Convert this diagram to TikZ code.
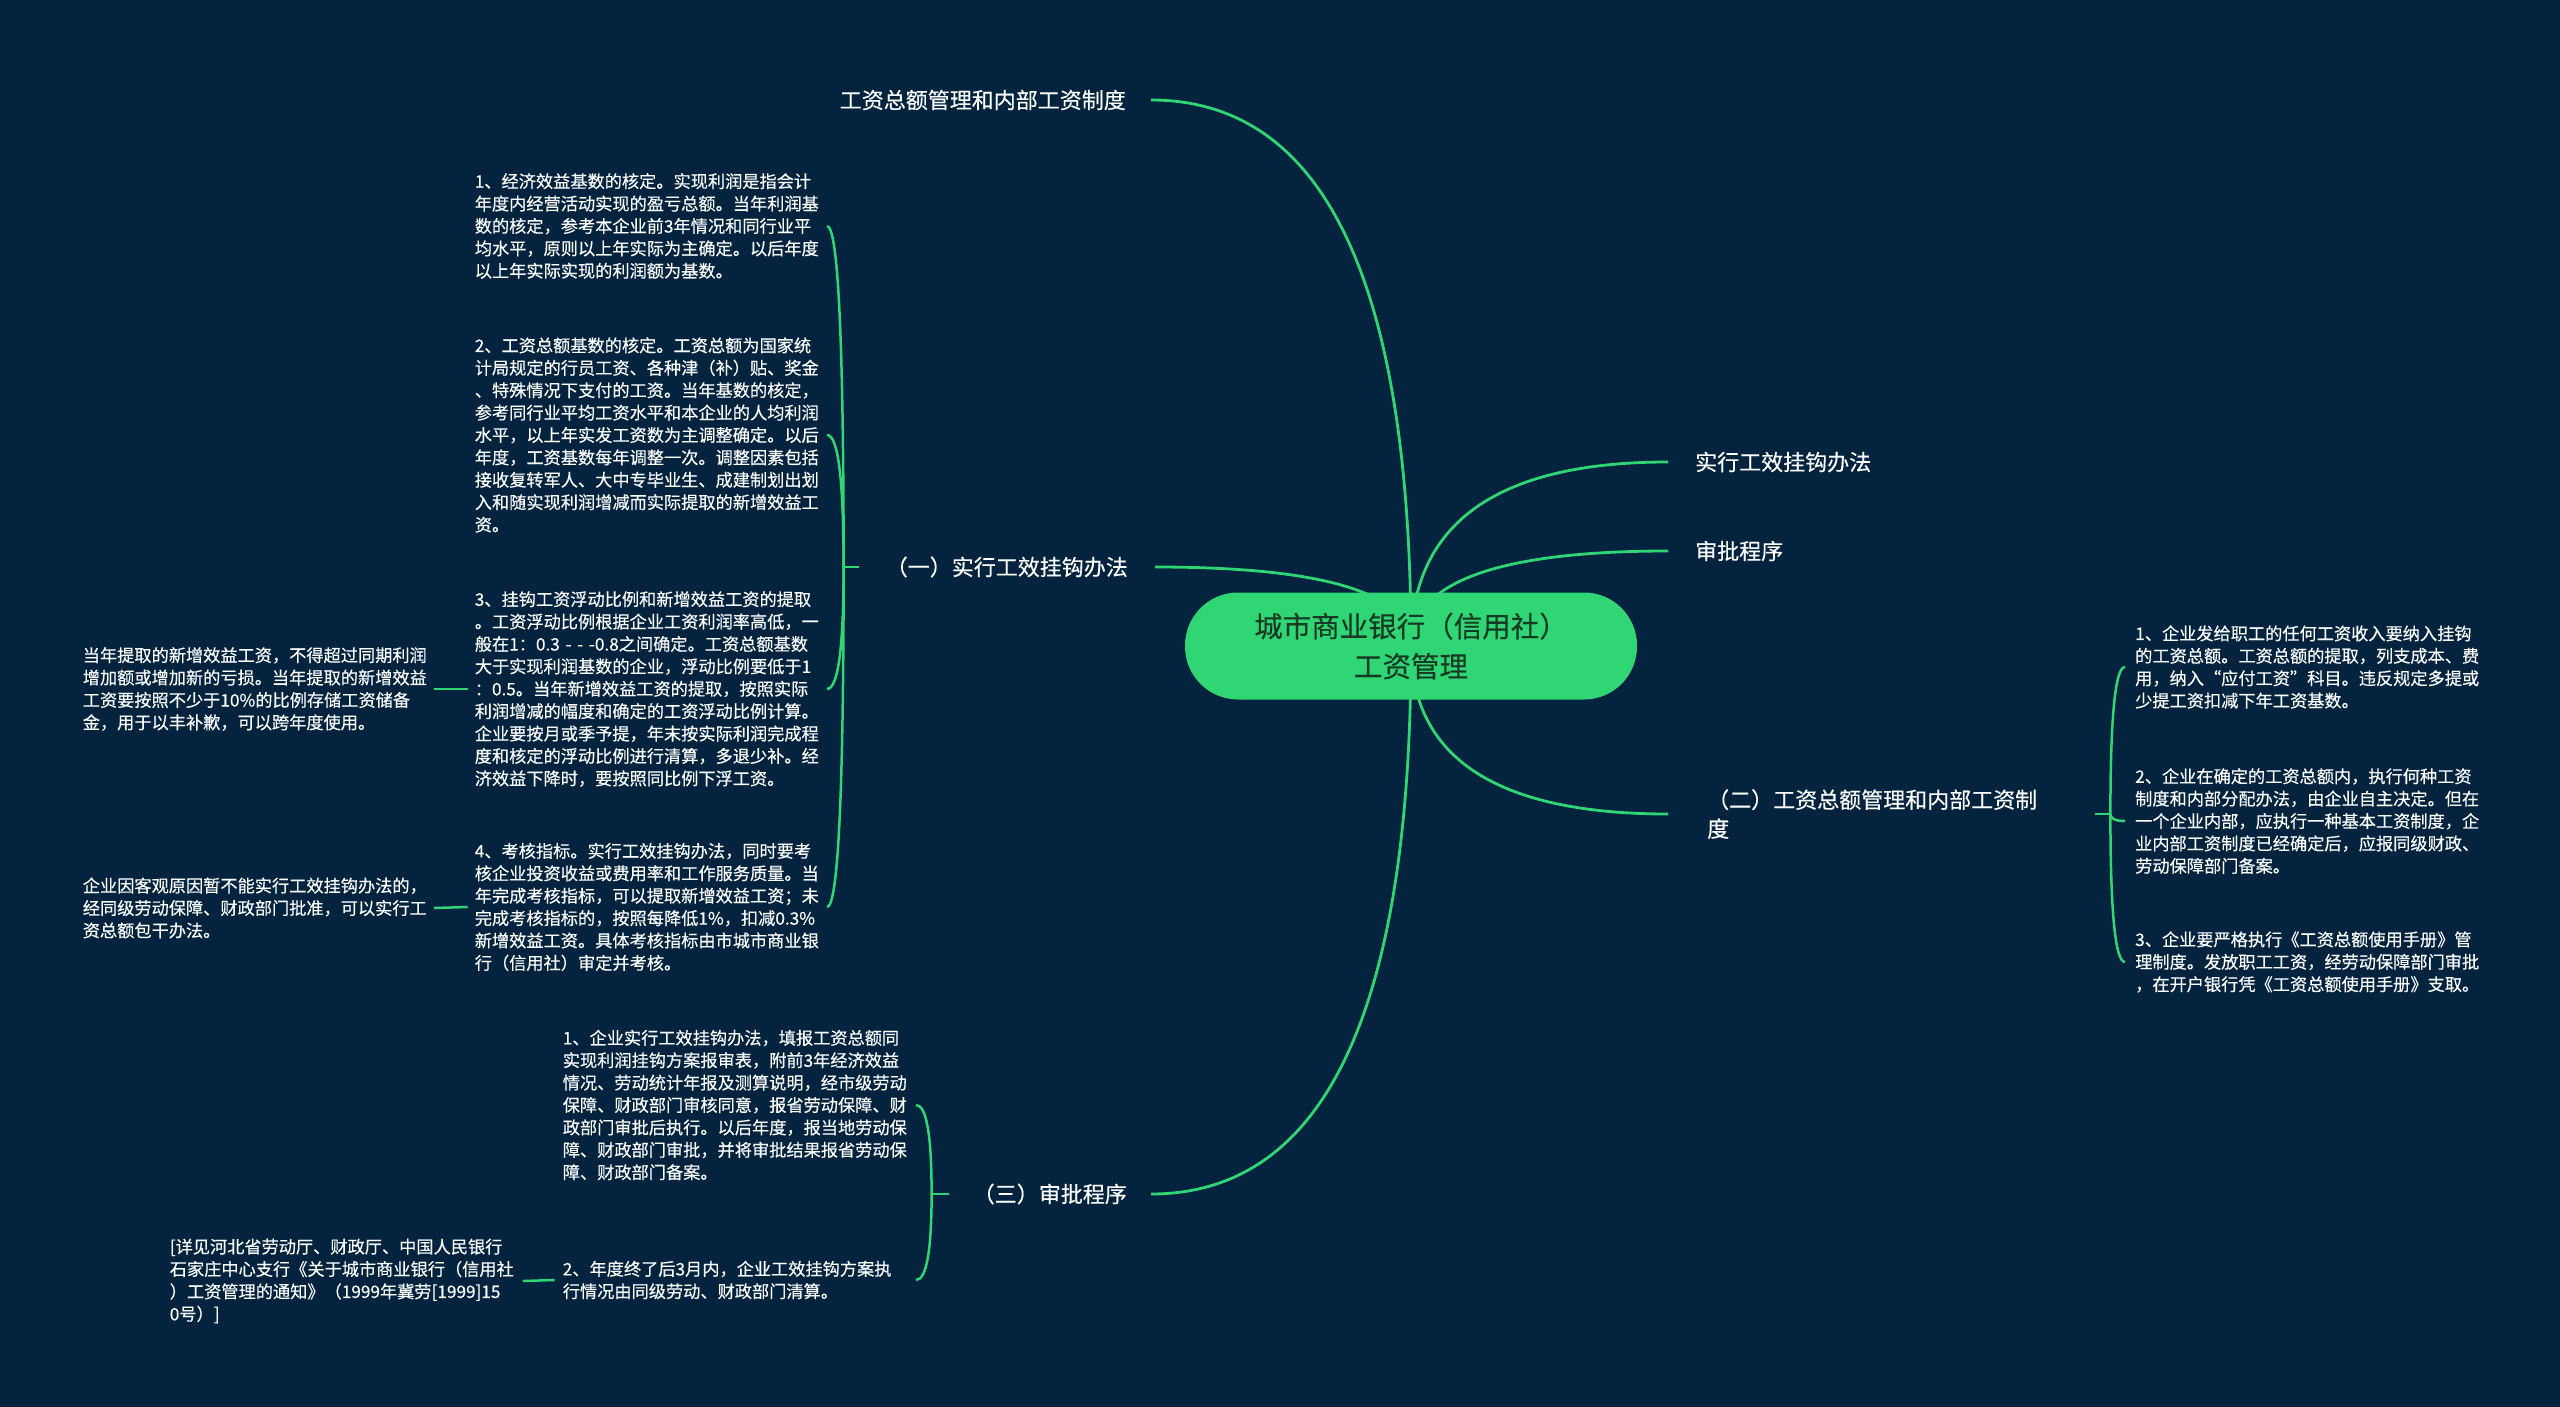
\documentclass[tikz,border=0pt]{standalone}
\usepackage{fontspec}
\setmainfont{Noto Sans CJK SC}[FakeBold=0.3]
\usetikzlibrary{calc}
\definecolor{bgc}{HTML}{03233F}
\definecolor{grn}{HTML}{2FD673}
\definecolor{ctxt}{HTML}{173A26}
\tikzset{
  link/.style={draw=grn, line width=2.8pt},
  blink/.style={draw=grn, line width=2.5pt},
  qcurve/.style={to path={.. controls ($(\tikztostart)!0.6667!(\tikztostart |- \tikztotarget)$) and ($(\tikztotarget)!0.6667!(\tikztostart |- \tikztotarget)$) .. (\tikztotarget)}},
  lab/.style={text=white, font=\fontsize{22}{29}\selectfont, inner ysep=4pt},
  small/.style={text=white, font=\fontsize{17.2}{22.4}\selectfont, text width=345pt, align=left, inner ysep=3pt},
  centre/.style={fill=grn, rounded corners=53pt, minimum width=452pt, minimum height=107pt, text=ctxt, font=\fontsize{28.5}{40}\selectfont, align=center}
}
\begin{document}
\begin{tikzpicture}[x=1pt,y=-1pt]
\useasboundingbox (0,0) rectangle (2560,1407);
\fill[bgc] (0,0) rectangle (2560,1407);
\coordinate (ctr) at (1411,646);

% main labels
\node[lab, anchor=east, inner xsep=25pt] (t1) at (1151,100) {工资总额管理和内部工资制度};
\node[lab, anchor=east, inner xsep=27pt] (b1) at (1155,567) {（一）实行工效挂钩办法};
\node[lab, anchor=east, inner xsep=24pt] (b3) at (1151,1194) {（三）审批程序};
\node[lab, anchor=west, inner xsep=27pt] (r1) at (1668,462) {实行工效挂钩办法};
\node[lab, anchor=west, inner xsep=27pt] (r2) at (1668,551) {审批程序};
\node[lab, anchor=west, inner xsep=39pt, text width=349pt, align=left] (r3) at (1668,814) {（二）工资总额管理和内部工资制\\度};

% children of (一)
\node[small, anchor=east, inner xsep=7pt] (a1) at (827,226) {1、经济效益基数的核定。实现利润是指会计\\年度内经营活动实现的盈亏总额。当年利润基\\数的核定，参考本企业前3年情况和同行业平\\均水平，原则以上年实际为主确定。以后年度\\以上年实际实现的利润额为基数。};
\node[small, anchor=east, inner xsep=7pt] (a2) at (827,435) {2、工资总额基数的核定。工资总额为国家统\\计局规定的行员工资、各种津（补）贴、奖金\\、特殊情况下支付的工资。当年基数的核定，\\参考同行业平均工资水平和本企业的人均利润\\水平，以上年实发工资数为主调整确定。以后\\年度，工资基数每年调整一次。调整因素包括\\接收复转军人、大中专毕业生、成建制划出划\\入和随实现利润增减而实际提取的新增效益工\\资。};
\node[small, anchor=east, inner xsep=7pt] (a3) at (827,689) {3、挂钩工资浮动比例和新增效益工资的提取\\。工资浮动比例根据企业工资利润率高低，一\\般在1：0.3~-~-~-0.8之间确定。工资总额基数\\大于实现利润基数的企业，浮动比例要低于1\\：0.5。当年新增效益工资的提取，按照实际\\利润增减的幅度和确定的工资浮动比例计算。\\企业要按月或季予提，年末按实际利润完成程\\度和核定的浮动比例进行清算，多退少补。经\\济效益下降时，要按照同比例下浮工资。};
\node[small, anchor=east, inner xsep=7pt] (a4) at (827,907) {4、考核指标。实行工效挂钩办法，同时要考\\核企业投资收益或费用率和工作服务质量。当\\年完成考核指标，可以提取新增效益工资；未\\完成考核指标的，按照每降低1\%，扣减0.3\%\\新增效益工资。具体考核指标由市城市商业银\\行（信用社）审定并考核。};
\node[small, anchor=east, inner xsep=6pt] (g3) at (434,689) {当年提取的新增效益工资，不得超过同期利润\\增加额或增加新的亏损。当年提取的新增效益\\工资要按照不少于10\%的比例存储工资储备\\金，用于以丰补歉，可以跨年度使用。};
\node[small, anchor=east, inner xsep=6pt] (g4) at (434,908) {企业因客观原因暂不能实行工效挂钩办法的，\\经同级劳动保障、财政部门批准，可以实行工\\资总额包干办法。};

% children of (三)
\node[small, anchor=east, inner xsep=8pt] (s1) at (916,1105) {1、企业实行工效挂钩办法，填报工资总额同\\实现利润挂钩方案报审表，附前3年经济效益\\情况、劳动统计年报及测算说明，经市级劳动\\保障、财政部门审核同意，报省劳动保障、财\\政部门审批后执行。以后年度，报当地劳动保\\障、财政部门审批，并将审批结果报省劳动保\\障、财政部门备案。};
\node[small, anchor=east, inner xsep=8pt] (s2) at (916,1280) {2、年度终了后3月内，企业工效挂钩方案执\\行情况由同级劳动、财政部门清算。};
\node[small, anchor=east, inner xsep=8pt] (sg) at (523,1281) {[详见河北省劳动厅、财政厅、中国人民银行\\石家庄中心支行《关于城市商业银行（信用社\\）工资管理的通知》（1999年冀劳[1999]15\\0号）]};

% children of (二)
\node[small, anchor=west, inner xsep=10pt] (k1) at (2125,667) {1、企业发给职工的任何工资收入要纳入挂钩\\的工资总额。工资总额的提取，列支成本、费\\用，纳入“应付工资”科目。违反规定多提或\\少提工资扣减下年工资基数。};
\node[small, anchor=west, inner xsep=10pt] (k2) at (2125,821) {2、企业在确定的工资总额内，执行何种工资\\制度和内部分配办法，由企业自主决定。但在\\一个企业内部，应执行一种基本工资制度，企\\业内部工资制度已经确定后，应报同级财政、\\劳动保障部门备案。};
\node[small, anchor=west, inner xsep=10pt] (k3) at (2125,962) {3、企业要严格执行《工资总额使用手册》管\\理制度。发放职工工资，经劳动保障部门审批\\，在开户银行凭《工资总额使用手册》支取。};

% brackets
\coordinate (j1) at ($(b1.west)+(-15,0)$);
\coordinate (j3) at ($(b3.west)+(-17,0)$);
\coordinate (j2) at ($(r3.east)+(15,0)$);
\draw[blink] (b1.west) -- (j1);
\draw[blink] (b3.west) -- (j3);
\draw[blink] (r3.east) -- (j2);
\foreach \n in {a1,a2,a3,a4} \draw[blink] (j1) to[qcurve] (\n.east);
\foreach \n in {s1,s2} \draw[blink] (j3) to[qcurve] (\n.east);
\foreach \n in {k1,k2,k3} \draw[blink] (j2) to[qcurve] (\n.west);
\draw[blink] (a3.west) -- (g3.east);
\draw[blink] (a4.west) -- (g4.east);
\draw[blink] (s2.west) -- (sg.east);

% main connectors
\draw[link] (ctr) to[qcurve] (t1.east);
\draw[link] (ctr) to[qcurve] (b1.east);
\draw[link] (ctr) to[qcurve] (b3.east);
\draw[link] (ctr) to[qcurve] (r1.west);
\draw[link] (ctr) to[qcurve] (r2.west);
\draw[link] (ctr) to[qcurve] (r3.west);

\node[centre] (ctrnode) at (ctr) {城市商业银行（信用社）\\工资管理};
\end{tikzpicture}
\end{document}
